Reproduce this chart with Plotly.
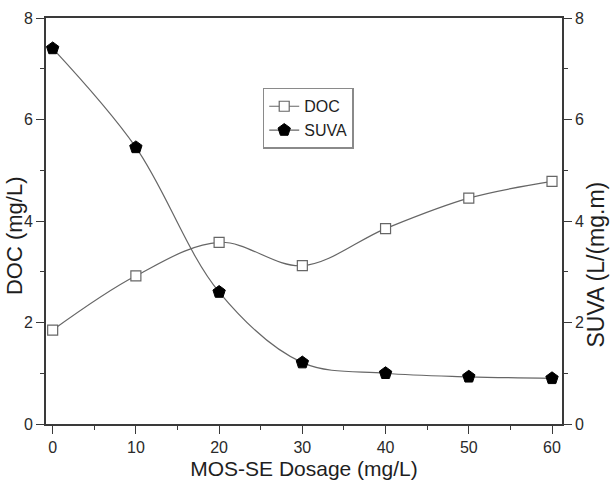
import plotly.graph_objects as go

dosage = [0, 10, 20, 30, 40, 50, 60]
doc = [1.85, 2.92, 3.58, 3.12, 3.85, 4.45, 4.78]
suva = [7.40, 5.45, 2.60, 1.21, 1.00, 0.93, 0.90]

font = "Liberation Sans, Arial, sans-serif"
axcol = "#3a3a3a"
linecol = "#666666"

fig = go.Figure()
fig.add_trace(go.Scatter(
    x=dosage, y=doc, name="DOC", mode="lines+markers",
    line=dict(color=linecol, width=1.2, shape="spline", smoothing=1.0),
    marker=dict(symbol="square", size=10, color="white",
                line=dict(color="#666666", width=1.2)),
))
fig.add_trace(go.Scatter(
    x=dosage, y=suva, name="SUVA", mode="lines+markers", yaxis="y2",
    line=dict(color=linecol, width=1.2, shape="spline", smoothing=1.0),
    marker=dict(symbol="pentagon", size=13, color="black",
                line=dict(color="black", width=1)),
))

axis_common = dict(showgrid=False, zeroline=False, showline=True,
                   linecolor=axcol, linewidth=1.6, ticks="outside",
                   ticklen=8, tickwidth=1.3, tickcolor=axcol,
                   tickfont=dict(family=font, size=16, color="#2a2a2a"))

fig.update_layout(
    width=611, height=487,
    margin=dict(l=46, r=49, t=10, b=62),
    paper_bgcolor="white", plot_bgcolor="white",
    font=dict(family=font, color="#1e1e1e"),
    xaxis=dict(range=[-0.8, 61.2], tickvals=dosage,
               title=dict(text="MOS-SE Dosage (mg/L)", font=dict(size=21), standoff=6),
               mirror=True,
               minor=dict(ticks="outside", ticklen=4, dtick=5, tick0=0,
                          tickcolor=axcol),
               **axis_common),
    yaxis=dict(range=[0, 8], dtick=2,
               minor=dict(ticks="outside", ticklen=4, dtick=1, tick0=0,
                          tickcolor=axcol),
               **axis_common),
    yaxis2=dict(range=[0, 8], dtick=2, overlaying="y", side="right",
                minor=dict(ticks="outside", ticklen=4, dtick=1, tick0=0,
                           tickcolor=axcol),
                **axis_common),
    legend=dict(x=0.42, y=0.828, xanchor="left", yanchor="top",
                bgcolor="white", bordercolor="#8a8a8a", borderwidth=1.5,
                font=dict(family=font, size=16, color="#1e1e1e"),
                tracegroupgap=0, itemwidth=30),
    showlegend=True,
    annotations=[
        dict(text="DOC (mg/L)", textangle=-90, showarrow=False,
             xref="paper", yref="paper", x=-0.062, y=0.463,
             xanchor="center", yanchor="middle",
             font=dict(family=font, size=22, color="#1e1e1e")),
        dict(text="SUVA (L/(mg.m)", textangle=-90, showarrow=False,
             xref="paper", yref="paper", x=1.066, y=0.393,
             xanchor="center", yanchor="middle",
             font=dict(family=font, size=23, color="#1e1e1e")),
    ],
)

fig.write_html("out.html")
